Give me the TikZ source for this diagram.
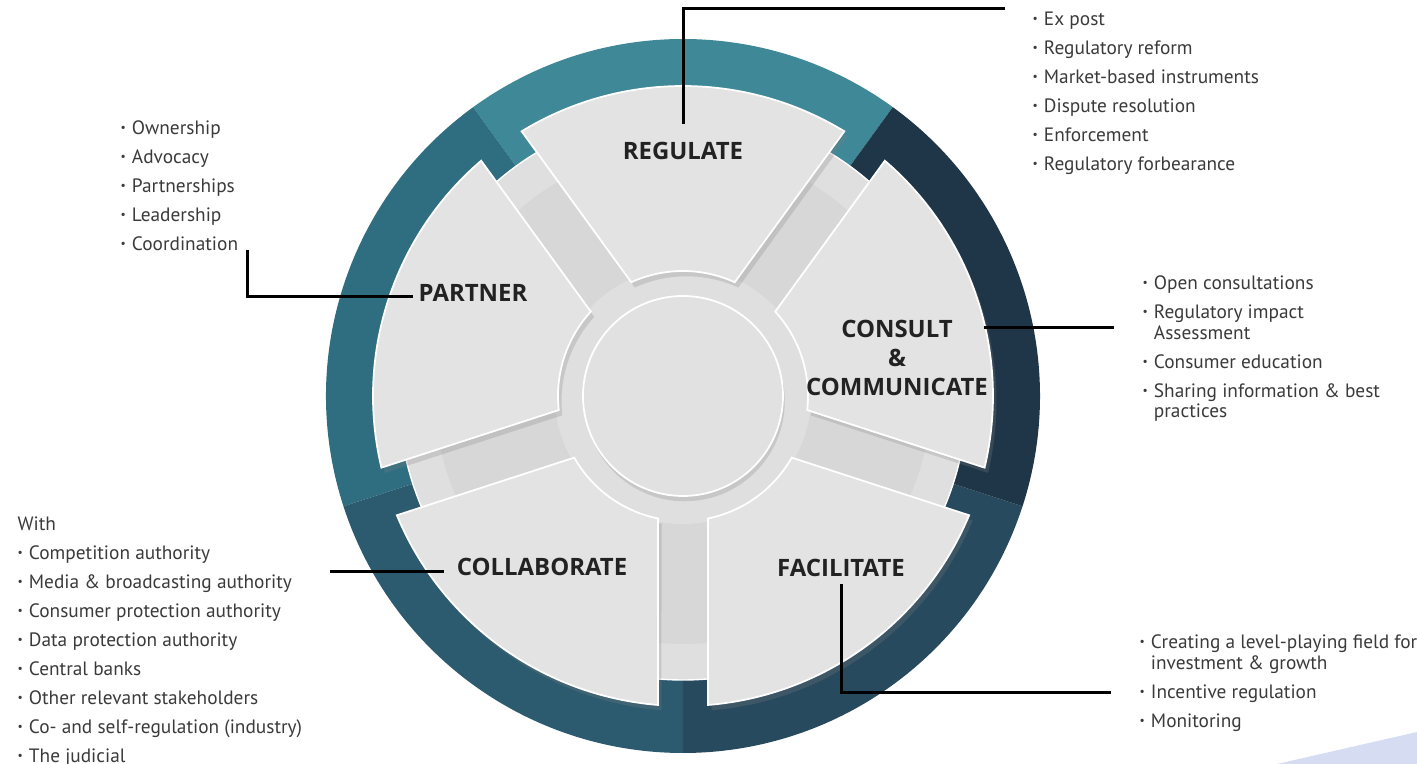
\documentclass[tikz,border=0pt]{standalone}
\usepackage{graphicx,xcolor}
\usepackage{fontspec}
\setmainfont{PT Sans}
\newfontfamily\labelfont{Open Sans}
\usepackage{tikz}
\usetikzlibrary{calc,positioning,shadows}

\definecolor{ringtop}{HTML}{3E8898}
\definecolor{ringleft}{HTML}{2F6E80}
\definecolor{ringlow}{HTML}{2C5B70}
\definecolor{ringbot}{HTML}{284A5F}
\definecolor{ringright}{HTML}{1F3648}
\definecolor{basegray}{HTML}{DFDFDF}
\definecolor{deepgray}{HTML}{D7D7D7}
\definecolor{petalgray}{HTML}{E3E3E3}
\definecolor{hubgray}{HTML}{E1E1E1}
\definecolor{listtext}{HTML}{3A3A3A}
\definecolor{labeltext}{HTML}{222222}
\definecolor{corner}{HTML}{D6DCF2}

\newcommand{\bul}{\makebox[3.2pt][l]{\raisebox{.3ex}{\scalebox{.6}{\textbullet}}}}
\newcommand{\nobul}{\hspace*{3.2pt}}

\begin{document}
\begin{tikzpicture}[x=0.01cm, y=0.01cm,
	label/.style = {font=\labelfont\fontsize{6.8}{8.25}\selectfont\bfseries, text=labeltext, inner sep=0, align=center},
	list/.style = {font=\fontsize{5.5}{8.25}\selectfont, text=listtext, inner sep=0, align=left, anchor=north west},
	link/.style = {draw=black, line width=0.85pt},
	petal/.style = {fill=petalgray, draw=white, line width=0.5pt, drop shadow={shadow xshift=1pt, shadow yshift=-1.5pt, opacity=0.25}}]
\useasboundingbox (-683,-368) rectangle (734,396);
% outer ring
\fill[ringtop] (0,0) -- (54:357) arc[start angle=54, end angle=126, radius=357] -- cycle;
\fill[ringleft] (0,0) -- (126:357) arc[start angle=126, end angle=198, radius=357] -- cycle;
\fill[ringlow] (0,0) -- (198:357) arc[start angle=198, end angle=270, radius=357] -- cycle;
\fill[ringbot] (0,0) -- (270:357) arc[start angle=270, end angle=342, radius=357] -- cycle;
\fill[ringright] (0,0) -- (-18:357) arc[start angle=-18, end angle=54, radius=357] -- cycle;
% base disc
\fill[basegray] (0,0) circle[radius=284];
\draw[white, line width=0.4pt] (0,0) circle[radius=284];
\fill[deepgray] (0,0) circle[radius=248];
\fill[basegray] (0,0) circle[radius=128];
% petals
\path[petal] (114.46:125) -- (121.37:310) arc[start angle=121.37, end angle=58.63, radius=310] -- (65.54:125) arc[start angle=65.54, end angle=114.46, radius=125] -- cycle;
\path[petal] (186.46:125) -- (193.37:310) arc[start angle=193.37, end angle=130.63, radius=310] -- (137.54:125) arc[start angle=137.54, end angle=186.46, radius=125] -- cycle;
\path[petal] (258.46:125) -- (265.37:310) arc[start angle=265.37, end angle=202.63, radius=310] -- (209.54:125) arc[start angle=209.54, end angle=258.46, radius=125] -- cycle;
\path[petal] (330.46:125) -- (337.37:310) arc[start angle=337.37, end angle=274.63, radius=310] -- (281.54:125) arc[start angle=281.54, end angle=330.46, radius=125] -- cycle;
\path[petal] (42.46:125) -- (49.37:310) arc[start angle=49.37, end angle=-13.37, radius=310] -- (-6.46:125) arc[start angle=-6.46, end angle=42.46, radius=125] -- cycle;
% hub
\path[fill=hubgray, draw=white, line width=0.5pt, drop shadow={shadow xshift=0.5pt, shadow yshift=-1.5pt, opacity=0.25}] (0,0) circle[radius=100];
\fill[corner] (594,-368) -- (734,-336) -- (734,-368) -- cycle;

\node[label] (1) at (0,245) {REGULATE};
\node[label] (2) at (-210,103) {PARTNER};
\node[label] (3) at (214,38) {CONSULT\\\&\\COMMUNICATE};
\node[label] (4) at (-141,-171) {COLLABORATE};
\node[label] (5) at (158,-172) {FACILITATE};

\node[list] (6) at (349,385) {\bul Ex post\\\bul Regulatory reform\\\bul Market-based instruments\\\bul Dispute resolution\\\bul Enforcement\\\bul Regulatory forbearance};
\node[list] (7) at (-563,276) {\bul Ownership\\\bul Advocacy\\\bul Partnerships\\\bul Leadership\\\bul Coordination};
\node[list] (8) at (459,121) {\bul Open consultations\\\bul Regulatory impact\\[-2.4pt]\nobul Assessment\\\bul Consumer education\\\bul Sharing information \& best\\[-2.4pt]\nobul practices};
\node[list] (9) at (-666,-120) {With\\\bul Competition authority\\\bul Media \& broadcasting authority\\\bul Consumer protection authority\\\bul Data protection authority\\\bul Central banks\\\bul Other relevant stakeholders\\\bul Co- and self-regulation (industry)\\\bul The judicial};
\node[list] (10) at (456,-238) {\bul Creating a level-playing field for\\[-2.4pt]\nobul investment \& growth\\\bul Incentive regulation\\\bul Monitoring};

\coordinate (1e) at (322,387);
\coordinate (2e) at (-435,146);
\coordinate (3e) at (431,68);
\coordinate (4e) at (-353,-176);
\coordinate (5e) at (428,-297);
	\path[link] ($(1.north)+(1,18)$) |- (1e);
	\path[link] ($(2.west)+(-5,-4)$) -| (2e);
	\path[link] ($(3.east)+(-5,30)$) -- (3e);
	\path[link] ($(4.west)+(-12,-5)$) -- (4e);
	\path[link] ($(5.south)+(1,-7)$) |- (5e);
\end{tikzpicture}
\end{document}
